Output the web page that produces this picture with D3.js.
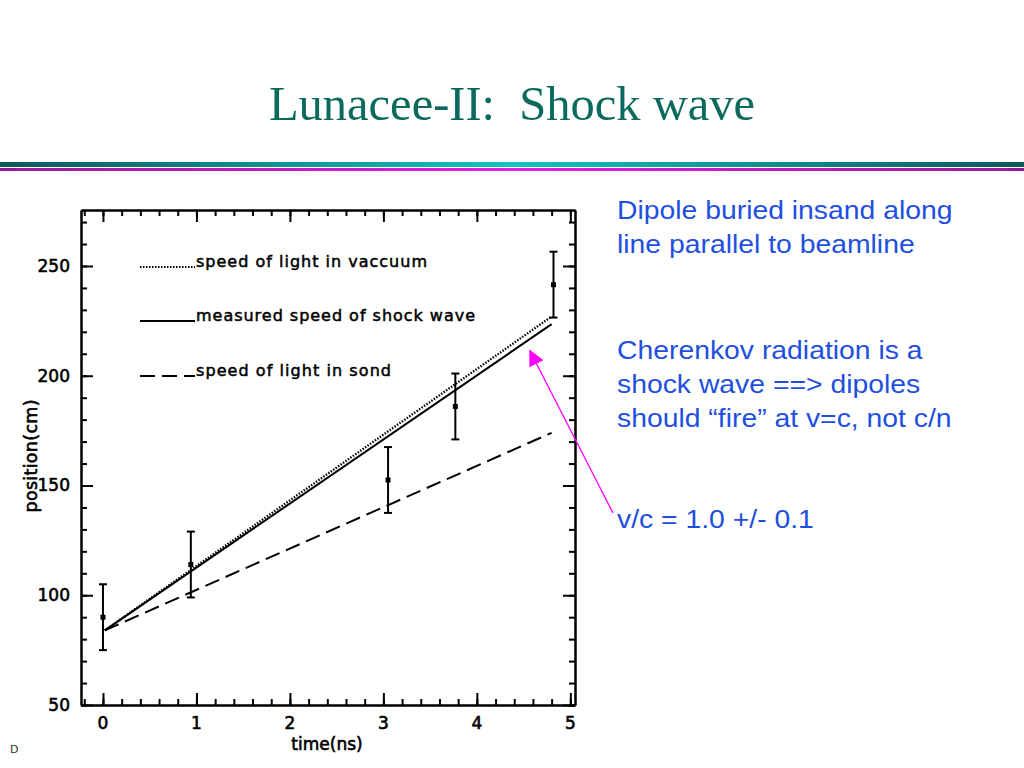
<!DOCTYPE html>
<html lang="en">
<head>
<meta charset="UTF-8">
<title>Lunacee-II: Shock wave</title>
<script src="https://d3js.org/d3.v7.min.js"></script>
<style>
  body { margin: 0; background: #fff; }
  svg { display: block; }
</style>
</head>
<body>
<svg width="1024" height="768"></svg>
<script>
// measured points: time (ns), position (cm), error (cm)
const times = [0, 0.94, 3.05, 3.77, 4.82];
const positions = [90, 114, 152.5, 186, 241.5];
const errors = [15, 15, 15, 15, 15];

// straight lines, given by their two end points
const lineTimes = [0.02, 4.8];
const vacuumLine = [84, 227];
const measuredLine = [84, 223.5];
const sandLine = [84, 174];

const legendLabels = ["speed of light in vaccuum", "measured speed of shock wave", "speed of light in sond"];
const xTicks = [0, 1, 2, 3, 4, 5];
const yTicks = [50, 100, 150, 200, 250];

const notes = [
  ["Dipole buried insand along", "line parallel to beamline"],
  ["Cherenkov radiation is a", "shock wave ==> dipoles", "should \u201cfire\u201d at v=c, not c/n"],
  ["v/c = 1.0 +/- 0.1"]
];

const svg = d3.select("svg");

// header bars
const defs = svg.append("defs");
function bandGradient(id, edge, mid) {
  const g = defs.append("linearGradient").attr("id", id).attr("x1", "0%").attr("x2", "100%");
  g.append("stop").attr("offset", "0%").attr("stop-color", edge);
  g.append("stop").attr("offset", "50%").attr("stop-color", mid);
  g.append("stop").attr("offset", "100%").attr("stop-color", edge);
}
bandGradient("teal", "#0b5858", "#12c4c4");
bandGradient("pink", "#96189a", "#e41ee4");
svg.append("rect").attr("x", 0).attr("y", 162).attr("width", 1024).attr("height", 5).attr("fill", "url(#teal)");
svg.append("rect").attr("x", 0).attr("y", 168).attr("width", 1024).attr("height", 3).attr("fill", "url(#pink)");

// title
svg.append("text")
  .attr("x", 512).attr("y", 120)
  .attr("text-anchor", "middle")
  .style("font-family", "'Liberation Serif', 'DejaVu Serif', serif")
  .style("font-size", "48.5px")
  .style("fill", "#0b6a5c")
  .text("Lunacee-II:\u00a0 Shock wave");

// plot
const plotLeft = 81, plotRight = 575, plotTop = 210, plotBottom = 705;
const x = d3.scaleLinear().domain([-0.235, 5.05]).range([plotLeft, plotRight]);
const y = d3.scaleLinear().domain([50, 275.5]).range([plotBottom, plotTop]);

const plotFont = "'DejaVu Sans', sans-serif";
const minorX = d3.range(-0.2, 5.01, 0.2);
const minorY = d3.range(50, 271, 10);

function styleAxis(g) {
  g.selectAll("path, line").attr("stroke", "#000").attr("stroke-width", 2);
}

// major + minor ticks on all four sides, pointing inwards
const axes = [
  [d3.axisBottom(x), `translate(0,${plotBottom})`, xTicks, minorX],
  [d3.axisTop(x), `translate(0,${plotTop})`, xTicks, minorX],
  [d3.axisLeft(y), `translate(${plotLeft},0)`, yTicks, minorY],
  [d3.axisRight(y), `translate(${plotRight},0)`, yTicks, minorY]
];
axes.forEach(([axis, tr, major, minor]) => {
  svg.append("g").attr("transform", tr)
    .call(axis.tickValues(minor).tickSize(-6).tickSizeOuter(0).tickFormat(""))
    .call(styleAxis);
  svg.append("g").attr("transform", tr)
    .call(axis.tickValues(major).tickSize(-12).tickSizeOuter(0).tickFormat(""))
    .call(styleAxis);
});

// tick labels
svg.append("g").selectAll("text").data(xTicks).join("text")
  .attr("x", d => x(d)).attr("y", 729)
  .attr("text-anchor", "middle")
  .style("font-family", plotFont).style("font-size", "17px")
  .style("stroke", "#000").style("stroke-width", 0.6)
  .text(d => d);
svg.append("g").selectAll("text").data(yTicks).join("text")
  .attr("x", 70).attr("y", d => y(d) + 6)
  .attr("text-anchor", "end")
  .style("font-family", plotFont).style("font-size", "17px")
  .style("stroke", "#000").style("stroke-width", 0.6)
  .text(d => d);

// axis titles
svg.append("text")
  .attr("x", 327).attr("y", 750)
  .attr("text-anchor", "middle")
  .style("font-family", plotFont).style("font-size", "17px")
  .style("stroke", "#000").style("stroke-width", 0.6)
  .text("time(ns)");
svg.append("text")
  .attr("transform", "translate(37,456) rotate(-90)")
  .attr("text-anchor", "middle")
  .attr("textLength", 113).attr("lengthAdjust", "spacing")
  .style("font-family", plotFont).style("font-size", "17.5px")
  .style("stroke", "#000").style("stroke-width", 0.6)
  .text("position(cm)");

// lines
const dashes = ["1.5,1.5", null, "15,7"];
const lineSets = [vacuumLine, measuredLine, sandLine];
const line = d3.line().x((d, i) => x(lineTimes[i])).y(d => y(d));
lineSets.forEach((vals, i) => {
  svg.append("path")
    .attr("d", line(vals))
    .attr("fill", "none")
    .attr("stroke", "#000")
    .attr("stroke-width", i === 0 ? 2.3 : 2)
    .attr("stroke-dasharray", dashes[i]);
});

// error bars and points
const pts = times.map((t, i) => ({ t, p: positions[i], e: errors[i] }));
const eb = svg.append("g").attr("stroke", "#000").attr("stroke-width", 2);
pts.forEach(d => {
  const cx = x(d.t);
  eb.append("line").attr("x1", cx).attr("x2", cx).attr("y1", y(d.p - d.e)).attr("y2", y(d.p + d.e));
  eb.append("line").attr("x1", cx - 4).attr("x2", cx + 4).attr("y1", y(d.p - d.e)).attr("y2", y(d.p - d.e));
  eb.append("line").attr("x1", cx - 4).attr("x2", cx + 4).attr("y1", y(d.p + d.e)).attr("y2", y(d.p + d.e));
});
svg.append("g").selectAll("rect").data(pts).join("rect")
  .attr("x", d => x(d.t) - 2.5).attr("y", d => y(d.p) - 2.5)
  .attr("width", 5).attr("height", 5).attr("fill", "#000");

// legend
const legendY = [267, 321, 376];
const legendWidths = [231, 279, 195];
legendLabels.forEach((lab, i) => {
  svg.append("line")
    .attr("x1", 140).attr("x2", 195)
    .attr("y1", legendY[i]).attr("y2", legendY[i])
    .attr("stroke", "#000").attr("stroke-width", 2)
    .attr("stroke-dasharray", dashes[i]);
  svg.append("text")
    .attr("x", 196).attr("y", legendY[i])
    .attr("textLength", legendWidths[i]).attr("lengthAdjust", "spacing")
    .style("font-family", plotFont).style("font-size", "16px")
    .style("stroke", "#000").style("stroke-width", 0.5)
    .text(lab);
});

// notes on the right (the slide text is drawn a little wide)
const noteTop = [219, 359, 528];
const noteGroup = svg.append("g").attr("transform", "translate(617,0) scale(1.09,1)");
notes.forEach((lines, k) => {
  lines.forEach((t, j) => {
    noteGroup.append("text")
      .attr("x", 0).attr("y", noteTop[k] + j * 34)
      .style("font-family", "'Liberation Sans', Arial, sans-serif")
      .style("font-size", "26px")
      .style("fill", "#1e4fe0")
      .text(t);
  });
});

// pointer arrow
defs.append("marker").attr("id", "head")
  .attr("viewBox", "0 0 10 10").attr("refX", 9).attr("refY", 5)
  .attr("markerWidth", 16).attr("markerHeight", 16)
  .attr("markerUnits", "userSpaceOnUse")
  .attr("orient", "auto")
  .append("path").attr("d", "M0,0 L10,5 L0,10 Z").attr("fill", "#ff00ff");
svg.append("line")
  .attr("x1", 613).attr("y1", 513).attr("x2", 530).attr("y2", 351)
  .attr("stroke", "#ff00ff").attr("stroke-width", 1.3)
  .attr("marker-end", "url(#head)");

// footer mark
svg.append("text")
  .attr("x", 10).attr("y", 753)
  .style("font-family", "'DejaVu Sans', sans-serif").style("font-size", "11px")
  .style("fill", "#333")
  .text("D");
</script>
</body>
</html>
